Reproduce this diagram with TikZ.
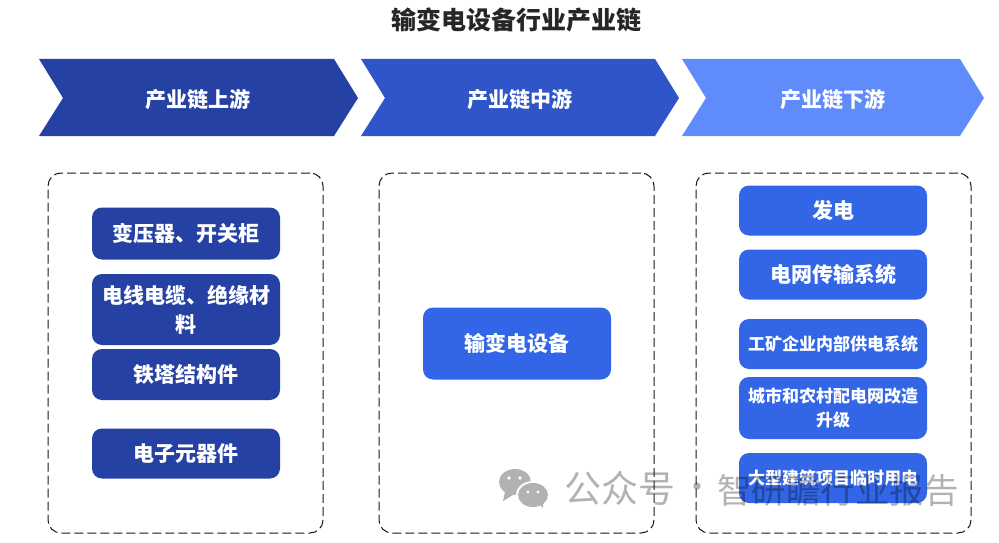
\documentclass[tikz,border=0pt]{standalone}
\usepackage{fontspec}
\setmainfont{Noto Sans CJK SC}
\definecolor{upblue}{HTML}{2541A3}
\definecolor{midblue}{HTML}{2F55C8}
\definecolor{downblue}{HTML}{5F8BFB}
\definecolor{itemblue}{HTML}{3366E6}
\begin{document}
\begin{tikzpicture}[x=1pt,y=-1pt]
 \tikzstyle{every node}=[font=\bfseries,text=white,align=center];
    \tikzstyle{frame}=[draw=black!90,line width=1pt,dash pattern=on 9pt off 4pt,rounded corners=13pt,minimum width=275pt,minimum height=360pt];
    \tikzstyle{item}=[rounded corners=10pt,minimum width=188pt,text width=176pt,inner sep=0pt,font=\bfseries\fontsize{21}{29}\selectfont];
    \tikzstyle{itemsmall}=[item,font=\bfseries\fontsize{17}{24}\selectfont];
    \tikzstyle{head}=[font=\bfseries\fontsize{21}{26}\selectfont];
    \useasboundingbox (0,0) rectangle (999,543);
    \fill[white] (0,0) rectangle (999,543);

    \node at (516,20) (title) [text=black!85,font=\bfseries\fontsize{25}{30}\selectfont] {输变电设备行业产业链};

    \fill[upblue] (39,59) -- (334,59) -- (358,98) -- (334,136) -- (39,136) -- (63,98) -- cycle;
    \fill[midblue] (361,59) -- (655,59) -- (679,98) -- (655,136) -- (361,136) -- (385,98) -- cycle;
    \fill[downblue] (682,59) -- (960,59) -- (984,98) -- (960,136) -- (682,136) -- (706,98) -- cycle;
    \node at (197.5,100) (up) [head] {产业链上游};
    \node at (519.5,100) (mid) [head] {产业链中游};
    \node at (833,100) (down) [head] {产业链下游};

    \node at (185.5,353) (fup) [frame] {};
    \node at (516.5,353) (fmid) [frame] {};
    \node at (833.5,353) (fdown) [frame] {};

    \node at (186,233.5) (u0) [item,fill=upblue,minimum height=52pt] {变压器、开关柜};
    \node at (186,309.5) (u1) [item,fill=upblue,minimum height=71pt] {电线电缆、绝缘材\\料};
    \node at (186,374.5) (u2) [item,fill=upblue,minimum height=51pt] {铁塔结构件};
    \node at (186,453.5) (u3) [item,fill=upblue,minimum height=50pt] {电子元器件};

    \node at (517,343.5) (m0) [item,fill=itemblue,minimum height=72pt] {输变电设备};

    \node at (833,210.5) (d0) [item,fill=itemblue,minimum height=50pt] {发电};
    \node at (833,274.5) (d1) [item,fill=itemblue,minimum height=50pt] {电网传输系统};
    \node at (833,344) (d2) [itemsmall,fill=itemblue,minimum height=50pt] {工矿企业内部供电系统};
    \node at (833,408) (d3) [itemsmall,fill=itemblue,minimum height=62pt] {城市和农村配电网改造\\升级};
    \node at (833,478) (d4) [itemsmall,fill=itemblue,minimum height=50pt] {大型建筑项目临时用电};

    % watermark
    \fill[black!30] (515,482) ellipse (16 and 13);
    \fill[black!30] (505,492) -- (503,501) -- (513,495) -- cycle;
    \fill[white] (533,495) ellipse (17 and 14);
    \fill[black!30] (533,495) ellipse (15 and 12);
    \fill[black!30] (539,504) -- (543,508) -- (543,501) -- cycle;
    \fill[white] (509,478) circle (1.8) (520,478) circle (1.8) (528,492) circle (1.6) (538,492) circle (1.6);
    \node at (620,488) (wm0) [text=black,text opacity=0.3,font=\fontsize{37}{40}\selectfont] {公众号};
    \node at (697,491) (wm1) [text=black,text opacity=0.3,font=\fontsize{34}{40}\selectfont] {·};
    \node at (838,490) (wm2) [text=black,text opacity=0.3,font=\fontsize{34.5}{40}\selectfont] {智研瞻行业报告};
\end{tikzpicture}
\end{document}
